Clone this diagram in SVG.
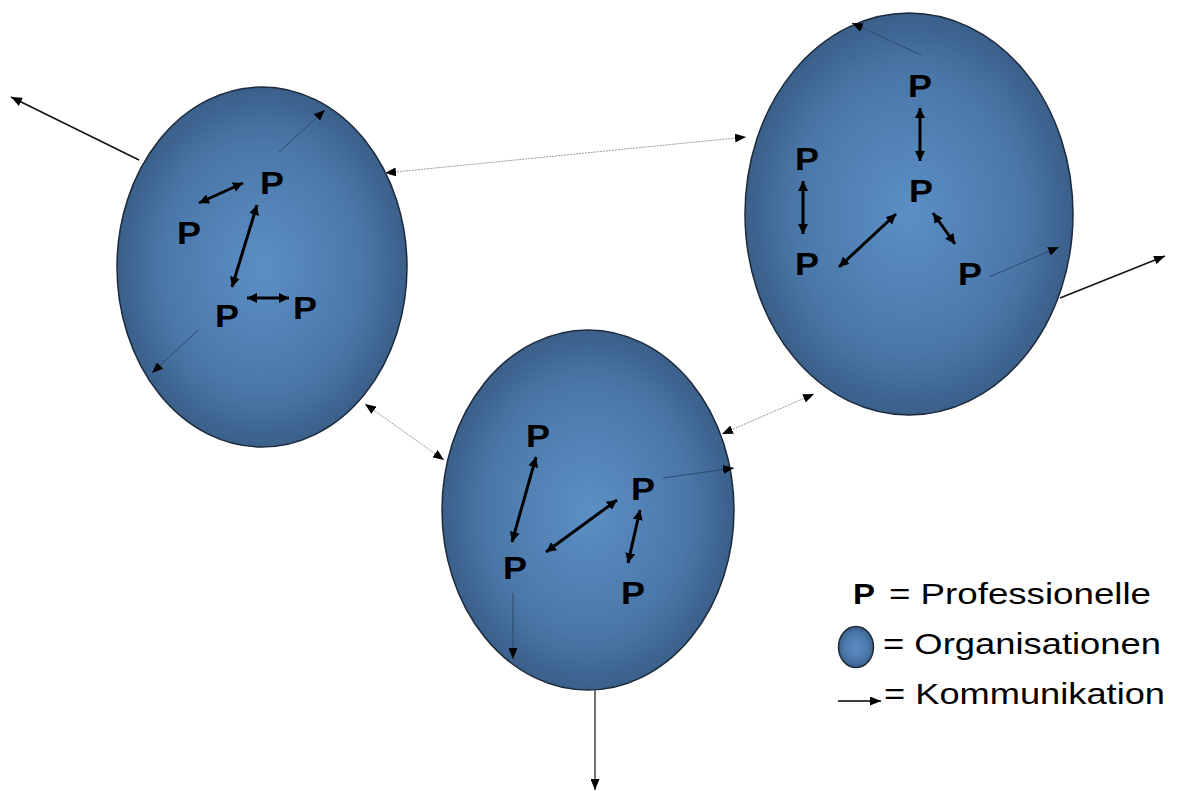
<svg xmlns="http://www.w3.org/2000/svg" width="1184" height="791" viewBox="0 0 1184 791">
<style>
.org{fill:url(#blue);stroke:#1c2a3a;stroke-width:1.5}
.p{font-family:"Liberation Sans",Arial,sans-serif;font-weight:bold;font-size:32px;fill:#000;text-anchor:middle}
.lg{font-family:"Liberation Sans",Arial,sans-serif;font-size:30px;fill:#000}
.thick{stroke:#000;stroke-width:3;fill:none;marker-start:url(#hT);marker-end:url(#hT)}
.thin{stroke:#2e4a6e;stroke-width:1;fill:none;marker-end:url(#hS)}
.link{stroke:#9a9a9a;stroke-width:1;stroke-dasharray:2 1;fill:none;marker-start:url(#hS);marker-end:url(#hS)}
.out{stroke:#111;stroke-width:1.5;fill:none;marker-end:url(#hS)}
</style>
<defs>
<radialGradient id="blue" cx="0.5" cy="0.5" r="0.5">
<stop offset="0" stop-color="#5c8fc6"/>
<stop offset="0.7" stop-color="#4a77a8"/>
<stop offset="1" stop-color="#3a5f8a"/>
</radialGradient>
<marker id="hS" markerUnits="userSpaceOnUse" markerWidth="11" markerHeight="9" refX="11" refY="4.5" orient="auto-start-reverse" viewBox="0 0 11 9">
<path d="M0,0 L11,4.5 L0,9 z" fill="#000"/>
</marker>
<marker id="hT" markerUnits="userSpaceOnUse" markerWidth="10" markerHeight="10" refX="10" refY="5" orient="auto-start-reverse" viewBox="0 0 10 10">
<path d="M0,0 L10,5 L0,10 z" fill="#000"/>
</marker>
</defs>
<rect width="1184" height="791" fill="#fff"/>

<g id="org-left">
<ellipse class="org" cx="262" cy="267" rx="145" ry="180"/>
<text class="p" x="272" y="194" textLength="24" lengthAdjust="spacingAndGlyphs">P</text>
<text class="p" x="189" y="244" textLength="24" lengthAdjust="spacingAndGlyphs">P</text>
<text class="p" x="227" y="327" textLength="24" lengthAdjust="spacingAndGlyphs">P</text>
<text class="p" x="305" y="319" textLength="24" lengthAdjust="spacingAndGlyphs">P</text>
</g>

<g id="org-right">
<ellipse class="org" cx="909" cy="214" rx="164" ry="201"/>
<text class="p" x="920" y="97" textLength="24" lengthAdjust="spacingAndGlyphs">P</text>
<text class="p" x="921" y="202" textLength="24" lengthAdjust="spacingAndGlyphs">P</text>
<text class="p" x="807" y="170" textLength="24" lengthAdjust="spacingAndGlyphs">P</text>
<text class="p" x="807" y="275" textLength="24" lengthAdjust="spacingAndGlyphs">P</text>
<text class="p" x="970" y="285" textLength="24" lengthAdjust="spacingAndGlyphs">P</text>
</g>

<g id="org-bottom">
<ellipse class="org" cx="588" cy="510" rx="146" ry="180"/>
<text class="p" x="538" y="447" textLength="24" lengthAdjust="spacingAndGlyphs">P</text>
<text class="p" x="643" y="500" textLength="24" lengthAdjust="spacingAndGlyphs">P</text>
<text class="p" x="515" y="579" textLength="24" lengthAdjust="spacingAndGlyphs">P</text>
<text class="p" x="633" y="604" textLength="24" lengthAdjust="spacingAndGlyphs">P</text>
</g>

<g id="connectors">
<!-- left ellipse internal -->
<line class="thick" x1="199" y1="203" x2="243" y2="183"/>
<line class="thick" x1="257" y1="205" x2="232" y2="287"/>
<line class="thick" x1="247" y1="298" x2="289" y2="298"/>
<line class="thin" x1="279" y1="152" x2="325" y2="110"/>
<line class="thin" x1="198" y1="330" x2="152" y2="373"/>
<line class="out" x1="139" y1="160" x2="11" y2="97"/>
<!-- right ellipse internal -->
<line class="thick" x1="920" y1="108" x2="920" y2="161"/>
<line class="thick" x1="803" y1="181" x2="803" y2="234"/>
<line class="thick" x1="896" y1="214" x2="839" y2="267"/>
<line class="thick" x1="933" y1="213" x2="955" y2="244"/>
<line class="thin" x1="921" y1="55" x2="852" y2="23"/>
<line class="thin" x1="989" y1="277" x2="1059" y2="247"/>
<line class="out" x1="1060" y1="298" x2="1165" y2="256"/>
<!-- bottom ellipse internal -->
<line class="thick" x1="536" y1="457" x2="512" y2="542"/>
<line class="thick" x1="617" y1="500" x2="546" y2="552"/>
<line class="thick" x1="640" y1="510" x2="628" y2="563"/>
<line class="thin" x1="663" y1="478" x2="734" y2="468"/>
<line class="thin" x1="513" y1="593" x2="513" y2="659"/>
<line class="out" x1="595" y1="690" x2="595" y2="790" style="stroke:#444"/>
<!-- links between organisations -->
<line class="link" x1="385" y1="173" x2="746" y2="137"/>
<line class="link" x1="365" y1="404" x2="444" y2="460"/>
<line class="link" x1="722" y1="434" x2="814" y2="394"/>
</g>

<g id="legend">
<text class="p" x="864" y="604" style="font-size:29px" textLength="22" lengthAdjust="spacingAndGlyphs">P</text>
<text class="lg" x="889" y="604" textLength="262" lengthAdjust="spacingAndGlyphs">= Professionelle</text>
<ellipse class="org" cx="856" cy="647" rx="17.5" ry="20.5"/>
<text class="lg" x="883" y="654" textLength="278" lengthAdjust="spacingAndGlyphs">= Organisationen</text>
<line x1="838" y1="701" x2="881" y2="701" stroke="#000" stroke-width="1.5" marker-end="url(#hS)"/>
<text class="lg" x="884" y="704" textLength="281" lengthAdjust="spacingAndGlyphs">= Kommunikation</text>
</g>
</svg>
